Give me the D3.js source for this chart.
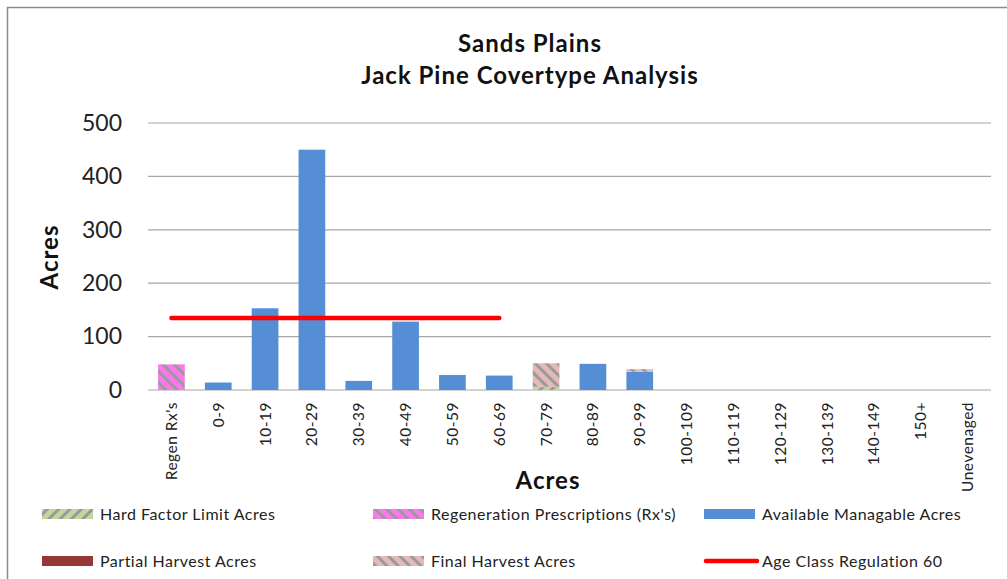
<!DOCTYPE html>
<html><head><meta charset="utf-8">
<script src="https://cdn.jsdelivr.net/npm/d3@7"></script>
<style>body{margin:0;background:#fff}svg{display:block}text{font-family:Lato,"Open Sans",sans-serif}</style>
</head><body><svg id="c" width="1007" height="579"></svg>
<script>
const categories = ["Regen Rx's","0-9","10-19","20-29","30-39","40-49","50-59","60-69","70-79","80-89","90-99","100-109","110-119","120-129","130-139","140-149","150+","Unevenaged"];
const hardFactor   = [0,0,0,0,0,0,0,0,6,0,0,0,0,0,0,0,0,0];
const regenRx      = [48,0,0,0,0,0,0,0,0,0,0,0,0,0,0,0,0,0];
const available    = [0,14,153,450,17,128,28,27,0,49,34,0,0,0,0,0,0,0];
const partial      = [0,0,0,0,0,0,0,0,0,0,0,0,0,0,0,0,0,0];
const finalHarvest = [0,0,0,0,0,0,0,0,44,0,5,0,0,0,0,0,0,0];
const regulationCats = ["Regen Rx's","60-69"];
const regulationValue = 135;
const yTicks = [0,100,200,300,400,500];
const seriesNames = ["Hard Factor Limit Acres","Regeneration Prescriptions (Rx's)","Available Managable Acres","Partial Harvest Acres","Final Harvest Acres"];
const lineName = "Age Class Regulation 60";

const svg = d3.select("#c");
const defs = svg.append("defs");
function hatch(id, bg, dir){
  const p = defs.append("pattern").attr("id",id).attr("patternUnits","userSpaceOnUse")
    .attr("width",8).attr("height",8).attr("patternTransform","rotate("+(dir>0?45:-45)+")");
  p.append("rect").attr("width",8).attr("height",8).attr("fill",bg);
  p.append("rect").attr("width",3).attr("height",8).attr("fill","#9a9a9a");
}
hatch("hf","#c3d69b",1);
hatch("rg","#ff77ee",-1);
hatch("fh","#e6b9b8",-1);
const fills = ["url(#hf)","url(#rg)","#558ed5","#953735","url(#fh)"];

svg.append("rect").attr("x",7.5).attr("y",7.5).attr("width",1010).attr("height",600)
  .attr("fill","none").attr("stroke","#8c8c8c").attr("stroke-width",1.5);

const x = d3.scaleBand().domain(categories).range([148,991]).paddingInner(0.43).paddingOuter(0.215);
const y = d3.scaleLinear().domain([0,500]).range([390,123]);

svg.append("g").selectAll("line").data(yTicks).join("line")
  .attr("x1",148).attr("x2",991).attr("y1",d=>y(d)).attr("y2",d=>y(d))
  .attr("stroke","#a6a6a6").attr("stroke-width",1.2);

const yAxis = svg.append("g").attr("transform","translate(148,0)")
  .call(d3.axisLeft(y).tickValues(yTicks).tickSize(0).tickPadding(26));
yAxis.select(".domain").remove();
yAxis.selectAll("text").attr("font-size",23).attr("fill","#222").style("font-family","Lato");

const table = categories.map((c,i)=>({cat:c, v:[hardFactor[i],regenRx[i],available[i],partial[i],finalHarvest[i]]}));
const stack = d3.stack().keys([0,1,2,3,4]).value((d,k)=>d.v[k])(table);
stack.forEach((s,k)=>{
  svg.append("g").selectAll("rect").data(s.filter(d=>d[1]-d[0]>0)).join("rect")
    .attr("x",d=>x(d.data.cat)).attr("width",x.bandwidth())
    .attr("y",d=>y(d[1])).attr("height",d=>y(d[0])-y(d[1]))
    .attr("fill",fills[k]);
});

const xAxis = svg.append("g").attr("transform","translate(0,390)")
  .call(d3.axisBottom(x).tickSize(0).tickPadding(0));
xAxis.select(".domain").remove();
xAxis.selectAll("text").attr("transform","rotate(-90)").attr("text-anchor","end")
  .attr("x",-12).attr("y",0).attr("dy","0.35em").attr("font-size",15.5)
  .attr("letter-spacing",0.5).attr("fill","#222").style("font-family","Lato");

svg.append("line")
  .attr("x1",x(regulationCats[0])+x.bandwidth()/2).attr("x2",x(regulationCats[1])+x.bandwidth()/2)
  .attr("y1",y(regulationValue)).attr("y2",y(regulationValue))
  .attr("stroke","#ff0000").attr("stroke-width",4.5).attr("stroke-linecap","round");

function bold(t){ return t.attr("font-size",24).attr("font-weight","bold").attr("letter-spacing",1).attr("fill","#111"); }
bold(svg.append("text").attr("x",530).attr("y",52).attr("text-anchor","middle")).text("Sands Plains");
bold(svg.append("text").attr("x",530).attr("y",84).attr("text-anchor","middle")).text("Jack Pine Covertype Analysis");
bold(svg.append("text").attr("transform","translate(58,257) rotate(-90)").attr("text-anchor","middle")).text("Acres");
bold(svg.append("text").attr("x",548).attr("y",489).attr("text-anchor","middle")).text("Acres");

const legendItems = seriesNames.map((n,i)=>({name:n,fill:fills[i],type:"rect"})).concat([{name:lineName,type:"line"}]);
const colX = [42,373,704], rowY = [514,561];
legendItems.forEach((d,i)=>{
  const cx = colX[i%3], cy = rowY[Math.floor(i/3)];
  if(d.type==="rect"){
    svg.append("rect").attr("x",cx).attr("y",cy-5).attr("width",51).attr("height",10).attr("fill",d.fill);
  } else {
    svg.append("line").attr("x1",cx+2).attr("x2",cx+53).attr("y1",cy).attr("y2",cy)
      .attr("stroke","#ff0000").attr("stroke-width",4.5).attr("stroke-linecap","round");
  }
  svg.append("text").attr("x",cx+58).attr("y",cy).attr("dy","0.35em").attr("font-size",16)
    .attr("letter-spacing",0.5).attr("fill","#222").text(d.name);
});
</script></body></html>
